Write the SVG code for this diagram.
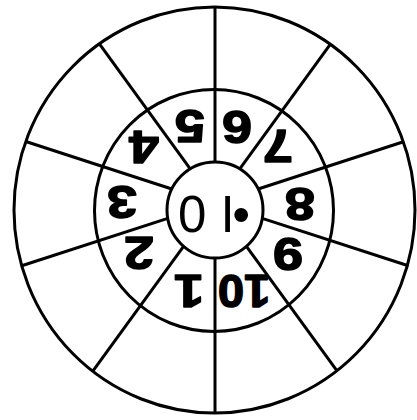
<svg xmlns="http://www.w3.org/2000/svg" width="417" height="420" viewBox="0 0 417 420">
<style>
.ring{fill:none;stroke:#000;stroke-width:3}
.sp{stroke:#000;stroke-width:3;stroke-linecap:butt}
.num{font-family:"Liberation Sans",Arial,sans-serif;font-weight:bold;font-size:47px;text-anchor:middle;fill:#000;stroke:#000;stroke-width:1.5;stroke-linejoin:round}
.ctr{font-family:"Liberation Sans",Arial,sans-serif;font-size:51px;text-anchor:middle;fill:#000}
</style>
<rect width="417" height="420" fill="#fff"/>
<g id="outer-ring"><ellipse class="ring" cx="214.5" cy="210" rx="200.5" ry="203"/></g>
<g id="middle-ring"><ellipse class="ring" cx="214" cy="210.5" rx="119.5" ry="121"/></g>
<g id="connectors">
<line class="sp" x1="215" y1="162" x2="215" y2="7"/>
<line class="sp" x1="239.78" y1="168.89" x2="330.58" y2="43.92"/>
<line class="sp" x1="258.15" y1="188.98" x2="404.23" y2="141.52"/>
<line class="sp" x1="262.27" y1="218.36" x2="408.27" y2="265.79"/>
<line class="sp" x1="246.44" y1="246.27" x2="337.19" y2="371.18"/>
<line class="sp" x1="215" y1="258" x2="215" y2="413"/>
<line class="sp" x1="183.56" y1="246.27" x2="92.81" y2="371.18"/>
<line class="sp" x1="167.73" y1="218.36" x2="21.73" y2="265.79"/>
<line class="sp" x1="171.85" y1="188.98" x2="25.77" y2="141.52"/>
<line class="sp" x1="190.22" y1="168.89" x2="99.42" y2="43.92"/>
</g>
<g id="center"><circle class="ring" cx="215" cy="210" r="48"/>
<text class="ctr" x="192.2 227.5 241.3" y="231.5">0I•</text></g>
<g id="n1"><text class="num" transform="translate(189 292) rotate(180) scale(1.15 1)" y="17">1</text></g>
<g id="n2"><text class="num" transform="translate(139 254) rotate(180) scale(1.15 1)" y="17">2</text></g>
<g id="n3"><text class="num" transform="translate(122 203) rotate(180) scale(1.15 1)" y="17">3</text></g>
<g id="n4"><text class="num" transform="translate(144 148) rotate(180) scale(1.15 1)" y="17">4</text></g>
<g id="n5"><text class="num" transform="translate(190 127) rotate(180) scale(1.15 1)" y="17">5</text></g>
<g id="n6"><text class="num" transform="translate(237 128) rotate(180) scale(1.15 1)" y="17">6</text></g>
<g id="n7"><text class="num" transform="translate(278 147.5) rotate(180) scale(1.15 1)" y="17">7</text></g>
<g id="n8"><text class="num" transform="translate(300 205) rotate(180) scale(1.15 1)" y="17">8</text></g>
<g id="n9"><text class="num" transform="translate(288 255.5) rotate(180) scale(1.15 1)" y="17">9</text></g>
<g id="n10"><text class="num" transform="translate(244 291.5) rotate(180)" y="17">10</text></g>
</svg>
